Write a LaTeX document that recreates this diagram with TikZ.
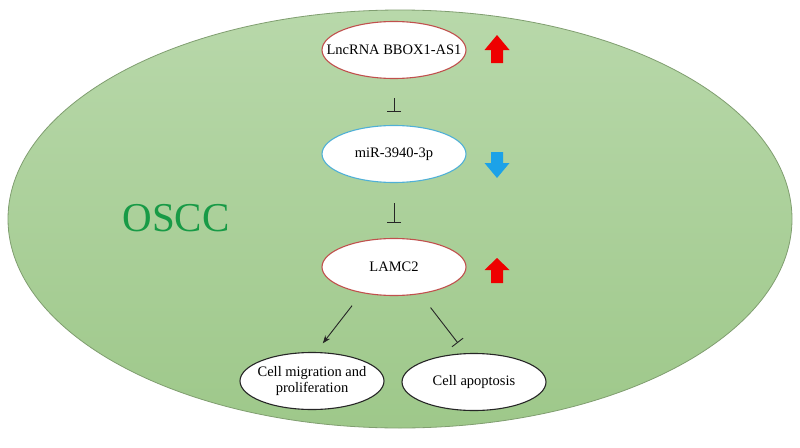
\documentclass[tikz,border=0pt]{standalone}
\usepackage{fontspec}
\setmainfont{Liberation Serif}
\usetikzlibrary{positioning,arrows.meta,shapes.geometric}
\definecolor{celltop}{RGB}{184,216,170}
\definecolor{cellbot}{RGB}{158,200,138}
\definecolor{cellline}{RGB}{128,158,112}
\definecolor{oscc}{RGB}{24,154,70}
\definecolor{lncred}{RGB}{192,80,77}
\definecolor{mirblue}{RGB}{80,176,214}
\definecolor{upred}{RGB}{238,0,0}
\definecolor{downblue}{RGB}{28,162,232}

\tikzset{
  rna/.style={ellipse, draw, fill=white, line width=1.1pt, inner xsep=-17pt,
    inner ysep=0pt, minimum width=144, minimum height=57, align=center},
  cell/.style={rna, draw=black!85},
  inhib/.style={-{Bar[width=14pt]}, line width=0.9pt, black!85},
  act/.style={-{Stealth[length=8pt, width=6pt]}, line width=0.9pt, black!85},
}

\begin{document}
\begin{tikzpicture}[x=1pt, y=-1pt, font=\fontsize{14.5}{16}\selectfont]
  \useasboundingbox[fill=white] (0,0) rectangle (800,447);
  % the tumour cell
  \shade[top color=celltop, bottom color=cellbot, draw=cellline, line width=0.8pt]
    (400,219) ellipse [x radius=392, y radius=209];
  \node[font=\fontsize{41}{44}\selectfont, text=oscc] (oscc) at (176,218) {OSCC};

  % axis
  \node[rna, draw=lncred] (lnc) at (394,50) {LncRNA BBOX1-AS1};
  \node[rna, draw=mirblue] (mir) at (394,154) {miR-3940-3p};
  \node[rna, draw=lncred] (lamc) at (394,267) {LAMC2};
  \node[cell] (mig) at (312,381) {Cell migration and\\proliferation};
  \node[cell] (apo) at (474,382) {Cell apoptosis};

  \draw[inhib, shorten <=19pt, shorten >=13pt] (lnc) -- (mir);
  \draw[inhib, shorten <=20pt, shorten >=15pt] (mir) -- (lamc);
  \draw[act, shorten <=16pt, shorten >=11pt] (lamc.219) -- (mig.82);
  \draw[inhib, shorten <=17pt, shorten >=13pt] (lamc.314) -- (apo.106);

  % expression level: x, tip, head base, tail, colour
  \newcommand{\levelarrow}[5]{%
    \fill[#5] (#1,#2) -- (#1+12.5,#3) -- (#1+6,#3) -- (#1+6,#4)
      -- (#1-6,#4) -- (#1-6,#3) -- (#1-12.5,#3) -- cycle;
  }
  \levelarrow{497}{35}{50}{63}{upred}
  \levelarrow{497}{178}{163}{152}{downblue}
  \levelarrow{497}{258}{270}{283}{upred}
\end{tikzpicture}
\end{document}
